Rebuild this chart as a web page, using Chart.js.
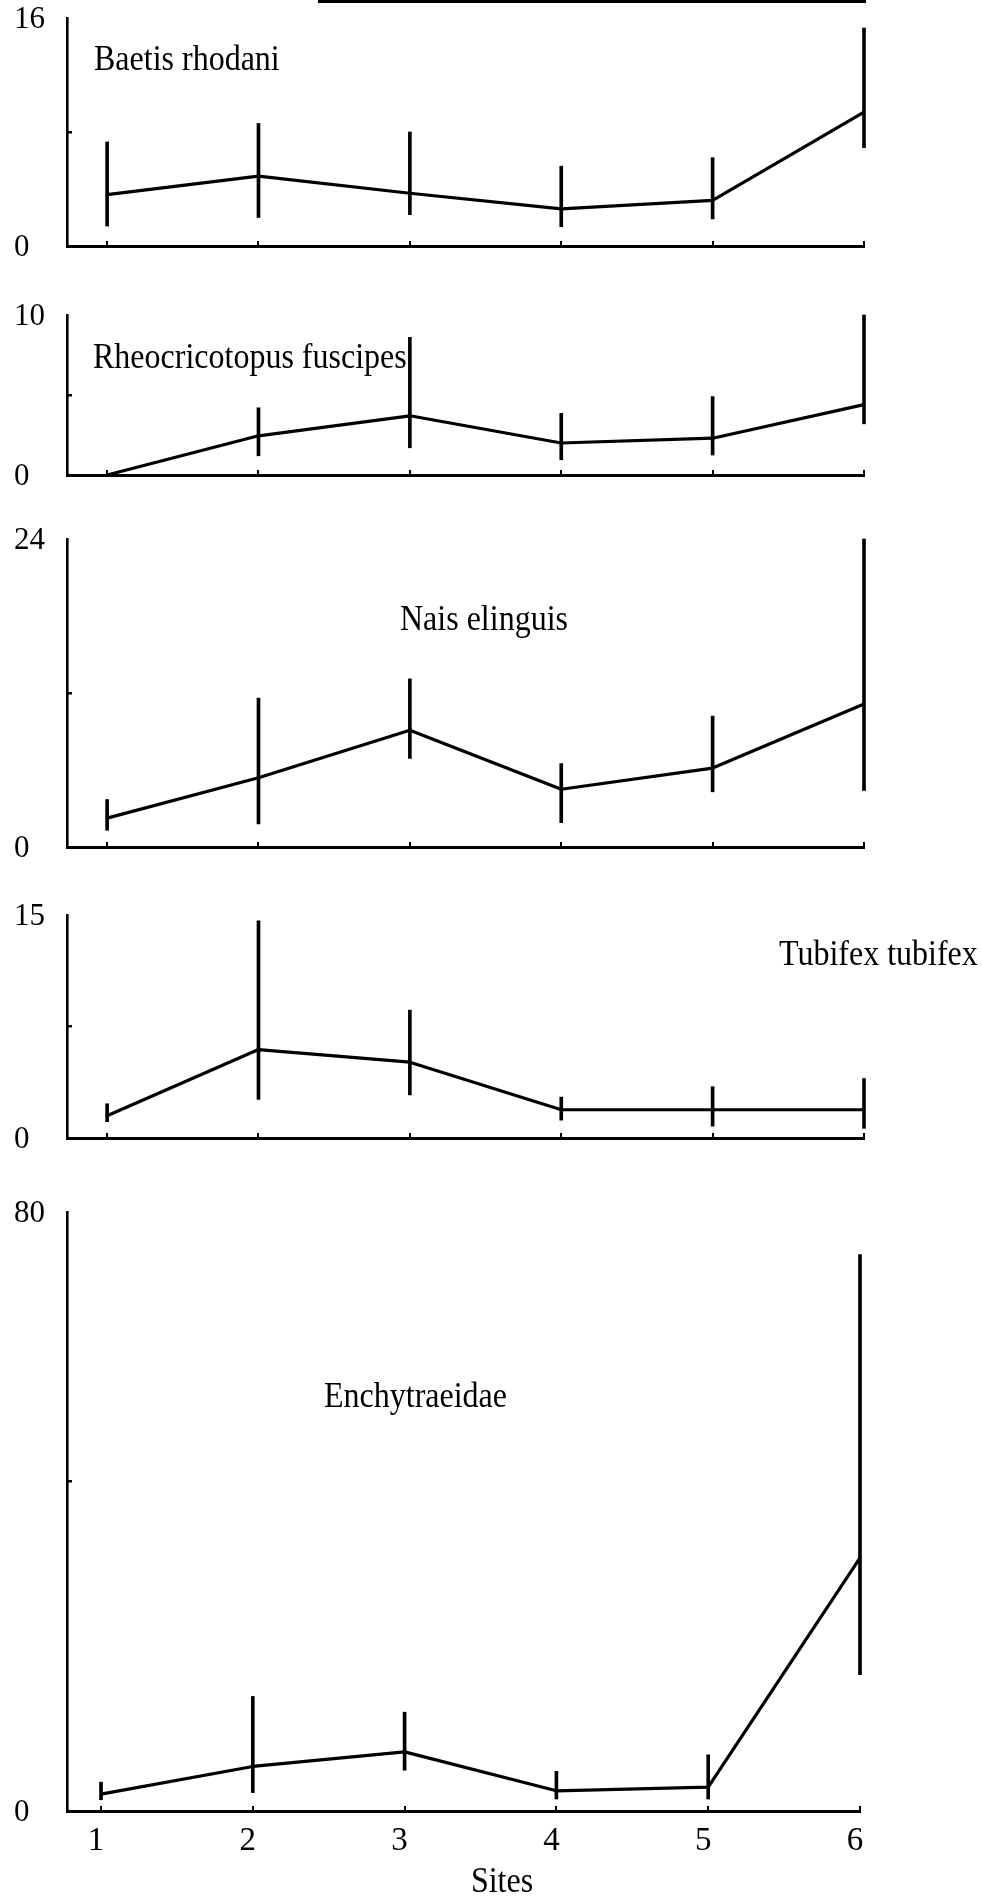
<!DOCTYPE html>
<html>
<head>
<meta charset="utf-8">
<script src="https://cdn.jsdelivr.net/npm/chart.js@4.4.1/dist/chart.umd.min.js"></script>
<style>
  html, body { margin: 0; padding: 0; background: #fff; }
  body { width: 982px; height: 1898px; position: relative; overflow: hidden; }
  .panel { position: absolute; left: 0; width: 982px; }
  .panel canvas { display: block; }
</style>
</head>
<body>
<script>
// Sampling sites along the stream
const sites = [1, 2, 3, 4, 5, 6];
const siteLabels = ['1', '2', '3', '4', '5', '6'];
const xTitle = 'Sites';

// Taxa, one panel each
const taxa = ['Baetis rhodani', 'Rheocricotopus fuscipes', 'Nais elinguis', 'Tubifex tubifex', 'Enchytraeidae'];

// Mean abundance per site with lower / upper limits of the error bars
const baetisMean = [3.6, 4.9, 3.7, 2.6, 3.2, 9.4];
const baetisLow  = [1.4, 2.0, 2.2, 1.35, 1.9, 6.9];
const baetisHigh = [7.3, 8.6, 8.0, 5.6, 6.2, 15.3];

const rheoMean = [0, 2.45, 3.7, 2.0, 2.3, 4.4];
const rheoLow  = [null, 1.2, 1.7, 0.95, 1.25, 3.2];
const rheoHigh = [null, 4.2, 8.6, 3.85, 4.9, 10.0];

const naisMean = [2.25, 5.4, 9.1, 4.5, 6.15, 11.15];
const naisLow  = [1.3, 1.8, 6.9, 1.9, 4.3, 4.4];
const naisHigh = [3.7, 11.6, 13.1, 6.5, 10.2, 24.0];

const tubifexMean = [1.5, 5.95, 5.1, 1.9, 1.9, 1.9];
const tubifexLow  = [1.1, 2.6, 2.9, 1.2, 0.8, 0.65];
const tubifexHigh = [2.3, 14.6, 8.6, 2.75, 3.45, 4.0];

const enchyMean = [2.25, 5.95, 7.9, 2.7, 3.2, 33.8];
const enchyLow  = [1.5, 2.45, 5.45, 1.6, 1.6, 18.2];
const enchyHigh = [3.85, 15.3, 13.2, 5.3, 7.5, 74.3];

// Y axis: labelled end ticks and an unlabelled middle tick
const yMax = [16, 10, 24, 15, 80];
const yMidTick = [8, 5, 12, 7.5, 44];

const means = [baetisMean, rheoMean, naisMean, tubifexMean, enchyMean];
const lows  = [baetisLow, rheoLow, naisLow, tubifexLow, enchyLow];
const highs = [baetisHigh, rheoHigh, naisHigh, tubifexHigh, enchyHigh];

// Page placement of each panel (plot top, baseline, right end) and its caption
const PAD_TOP = 26, PAD_LEFT = 14, AXIS_X = 67;
const panels = [
  { top: 18,   base: 246,  right: 864, xMin: 0.735, cap: { x: 94,  y: 70,   align: 'left' } },
  { top: 315,  base: 475,  right: 864, xMin: 0.735, cap: { x: 93,  y: 368,  align: 'left' } },
  { top: 539,  base: 847,  right: 864, xMin: 0.735, cap: { x: 400, y: 630,  align: 'left' } },
  { top: 915,  base: 1138, right: 864, xMin: 0.735, cap: { x: 779, y: 965,  align: 'left' } },
  { top: 1212, base: 1811, right: 860, xMin: 0.776, cap: { x: 324, y: 1407, align: 'left' } }
];

const SERIF = '"Liberation Serif", "Times New Roman", serif';
const INK = '#000';

// Captions, axis title and the rule above the figure
const panelText = {
  id: 'panelText',
  afterDraw(chart, args, opts) {
    const ctx = chart.ctx;
    ctx.save();
    ctx.fillStyle = INK;
    (opts.rules || []).forEach(r => ctx.fillRect(r.x, r.y, r.w, r.h));
    (opts.items || []).forEach(it => {
      ctx.save();
      ctx.font = it.font;
      ctx.textAlign = it.align;
      ctx.textBaseline = 'alphabetic';
      ctx.translate(it.x, it.y);
      ctx.scale(1, 1.12);
      ctx.fillText(it.text, 0, 0);
      ctx.restore();
    });
    ctx.restore();
  }
};

panels.forEach((p, i) => {
  const isBottom = i === panels.length - 1;
  const xAxisH = isBottom ? 1898 - p.base : 26;
  const offY = p.top - PAD_TOP;
  const h = PAD_TOP + (p.base - p.top) + xAxisH;

  const wrap = document.createElement('div');
  wrap.className = 'panel';
  wrap.style.top = offY + 'px';
  wrap.style.height = h + 'px';
  const canvas = document.createElement('canvas');
  canvas.width = 982;
  canvas.height = h;
  canvas.style.width = '982px';
  canvas.style.height = h + 'px';
  wrap.appendChild(canvas);
  document.body.appendChild(wrap);

  const bars = [];
  sites.forEach((s, k) => {
    if (lows[i][k] != null) bars.push({ x: s, y: [lows[i][k], highs[i][k]] });
  });
  const line = sites.map((s, k) => ({ x: s, y: means[i][k] }));

  const items = [{ text: taxa[i], x: p.cap.x, y: p.cap.y - offY, align: p.cap.align, font: '32px ' + SERIF }];
  if (isBottom) items.push({ text: xTitle, x: 502, y: 1892 - offY, align: 'center', font: '32px ' + SERIF });
  const rules = i === 0 ? [{ x: 318, y: 0 - offY, w: 548, h: 3 }] : [];

  const mid = yMidTick[i];
  const max = yMax[i];

  new Chart(canvas, {
    type: 'line',
    data: {
      datasets: [
        {
          type: 'bar',
          data: bars,
          backgroundColor: INK,
          borderWidth: 0,
          barThickness: 3,
          clip: false
        },
        {
          type: 'line',
          data: line,
          borderColor: INK,
          borderWidth: 3.2,
          pointRadius: 0,
          tension: 0,
          fill: false,
          borderJoinStyle: 'round',
          clip: false
        }
      ]
    },
    options: {
      responsive: false,
      animation: false,
      devicePixelRatio: 1,
      layout: { padding: { top: PAD_TOP, left: PAD_LEFT, right: 982 - p.right, bottom: 0 } },
      plugins: {
        legend: { display: false },
        tooltip: { enabled: false },
        panelText: { items, rules }
      },
      scales: {
        x: {
          type: 'linear',
          min: p.xMin,
          max: 6,
          offset: false,
          afterBuildTicks: s => { s.ticks = sites.map(v => ({ value: v })); },
          afterFit: s => { s.height = xAxisH; },
          ticks: {
            display: isBottom,
            autoSkip: false,
            color: INK,
            font: { family: SERIF, size: 33 },
            padding: 16,
            labelOffset: -5,
            callback: (v, idx) => siteLabels[idx]
          },
          grid: {
            display: true,
            offset: false,
            drawOnChartArea: false,
            drawTicks: true,
            tickLength: -5,
            color: INK,
            lineWidth: 2
          },
          border: { display: true, color: INK, width: 3 }
        },
        y: {
          type: 'linear',
          min: 0,
          max: max,
          afterBuildTicks: s => { s.ticks = [0, mid, max].map(v => ({ value: v })); },
          afterFit: s => { s.width = AXIS_X - PAD_LEFT; },
          ticks: {
            autoSkip: false,
            crossAlign: 'far',
            color: INK,
            font: { family: SERIF, size: 31 },
            labelOffset: 2,
            callback: v => (v === mid ? '' : String(v))
          },
          grid: {
            display: true,
            drawOnChartArea: false,
            drawTicks: true,
            tickLength: -5,
            lineWidth: 2.5,
            color: c => (c.tick && c.tick.value === mid ? INK : 'rgba(0,0,0,0)')
          },
          border: { display: true, color: INK, width: 2.6 }
        }
      }
    },
    plugins: [panelText]
  });
});
</script>
</body>
</html>
